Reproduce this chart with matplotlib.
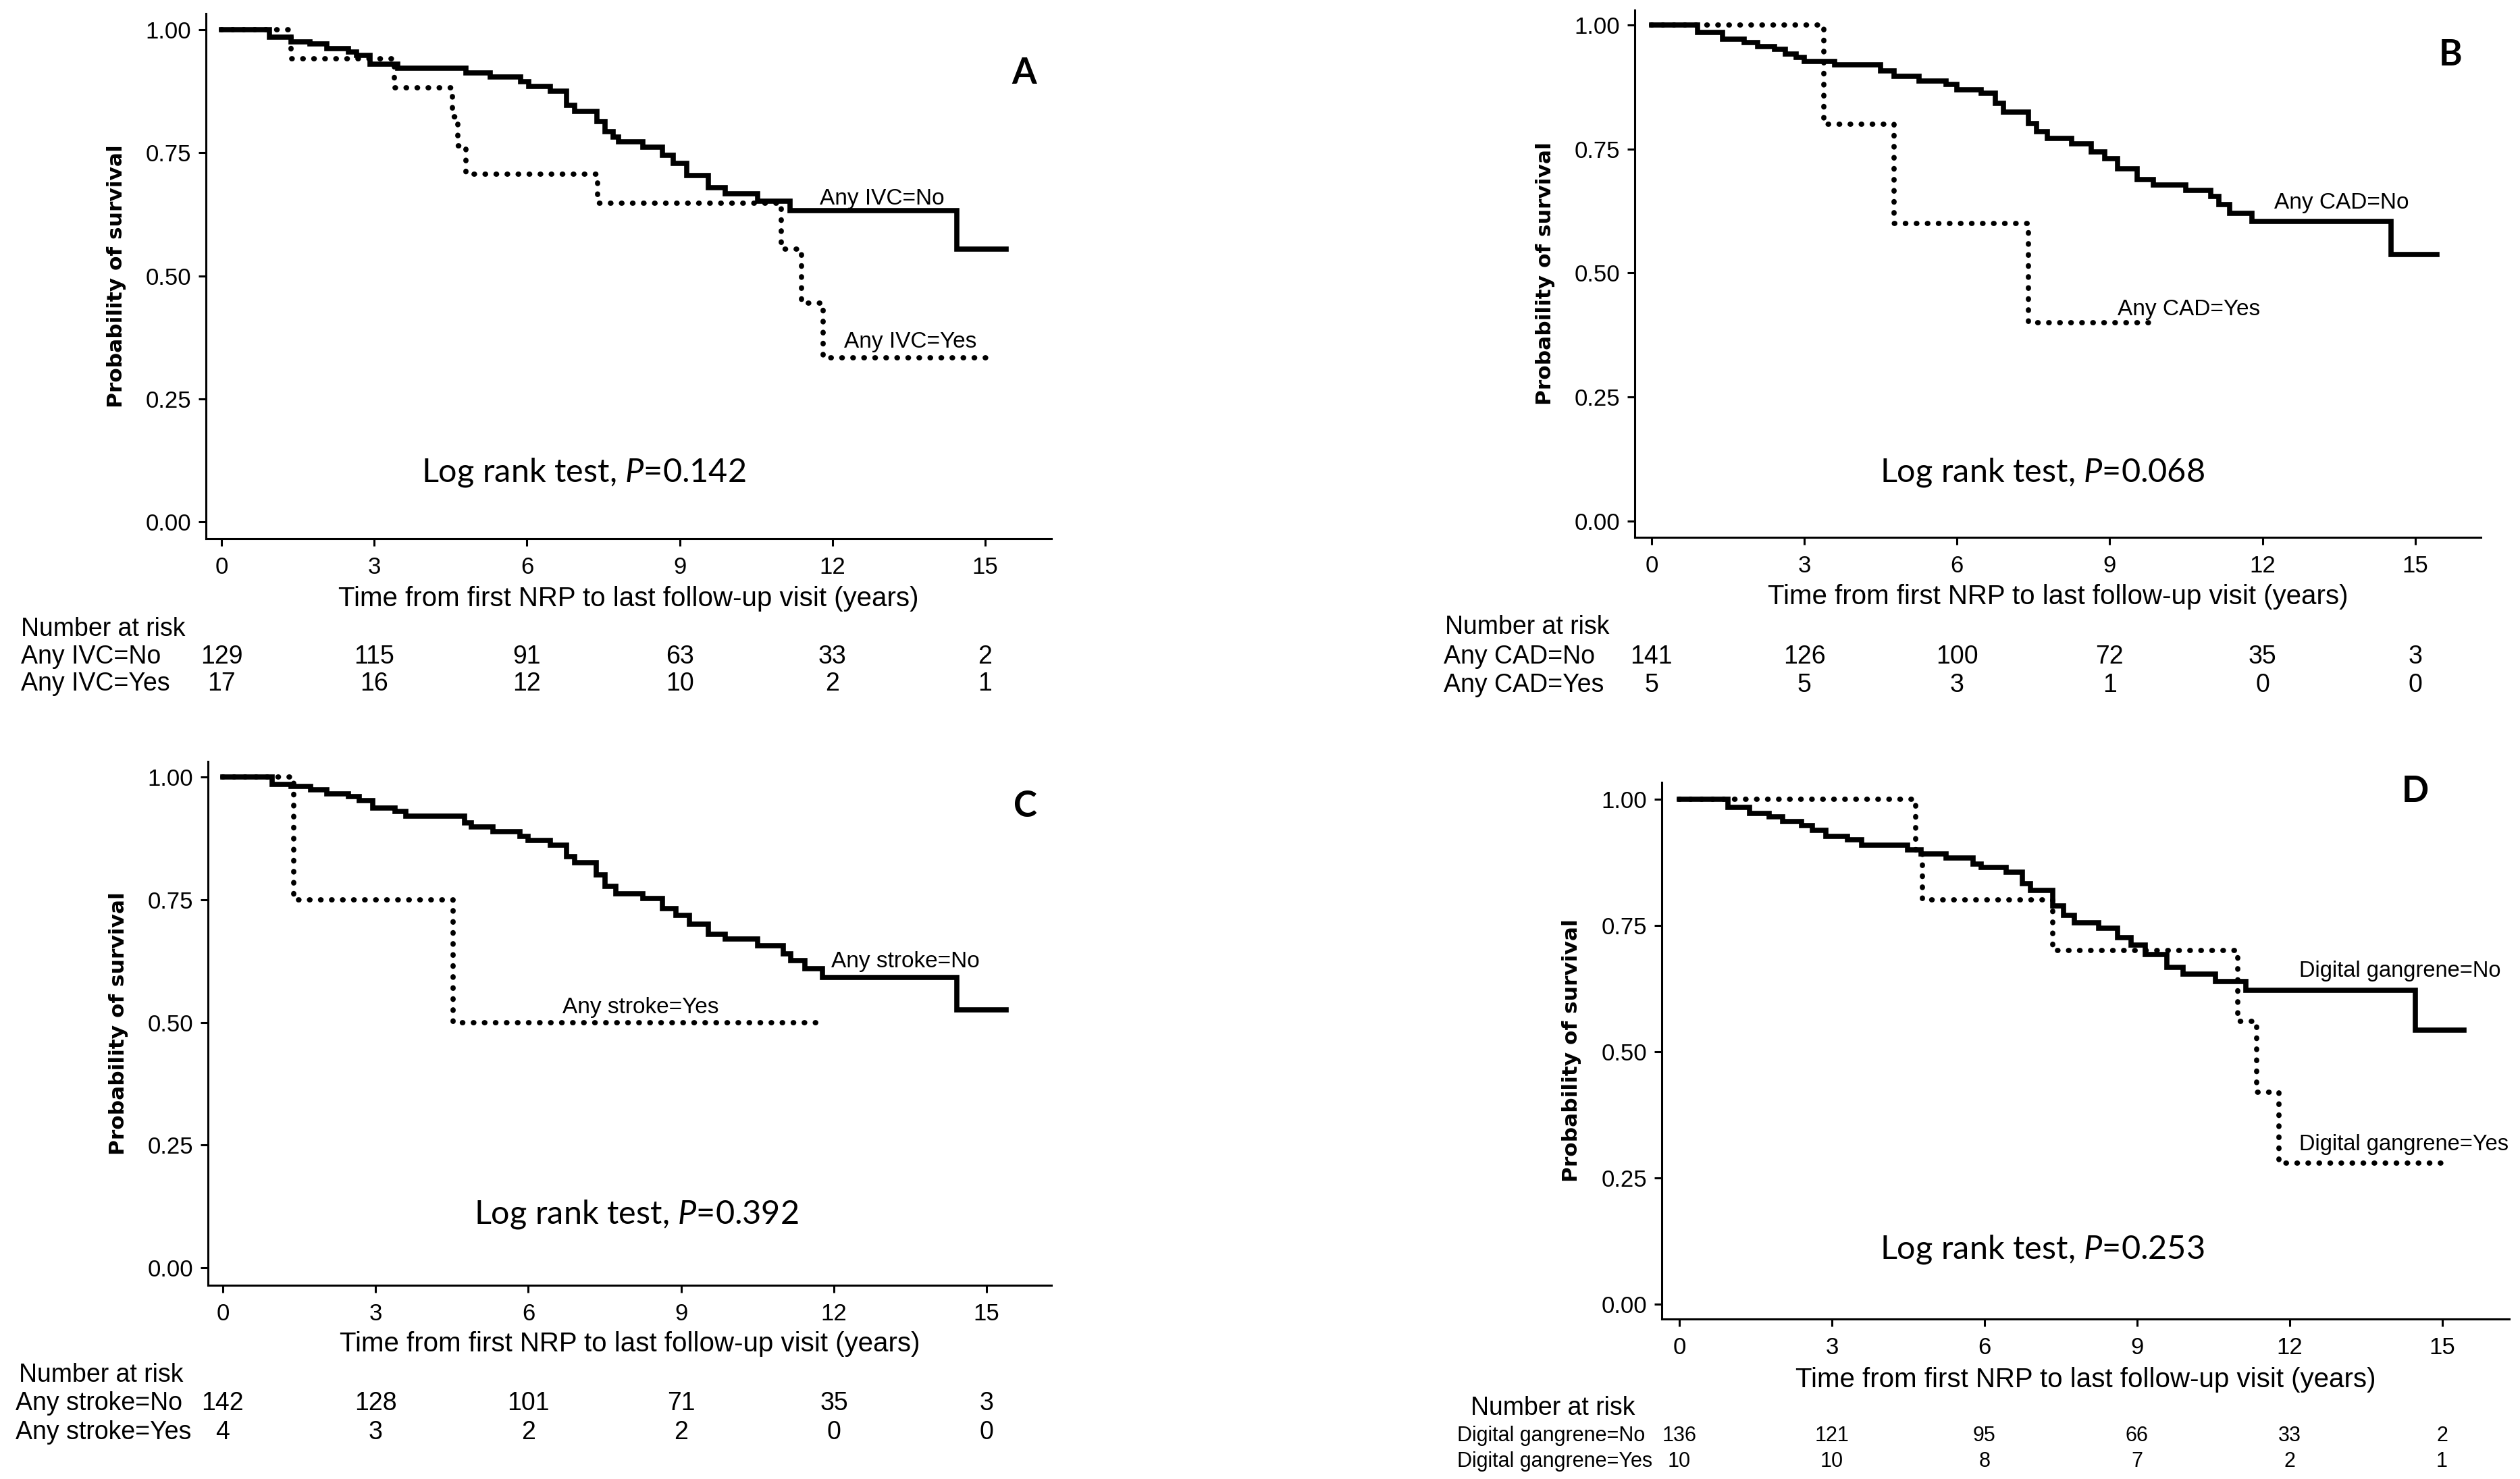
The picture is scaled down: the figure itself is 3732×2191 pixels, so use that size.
import matplotlib
matplotlib.use('Agg')
import matplotlib.pyplot as plt
from matplotlib import font_manager
from matplotlib.transforms import blended_transform_factory

plt.rcParams['font.family'] = ['Liberation Sans', 'DejaVu Sans']
plt.rcParams['mathtext.fontset'] = 'custom'
plt.rcParams['mathtext.rm'] = 'Lato'
plt.rcParams['mathtext.it'] = 'Lato:italic'

# tick labels in the original are a narrow face; use it when it is there
names = {f.name for f in font_manager.fontManager.ttflist}
if 'Liberation Sans Narrow' in names:
    tick_family, tick_size = 'Liberation Sans Narrow', 31
else:
    tick_family, tick_size = 'Liberation Sans', 25

# ── Data ─────────────────────────────────────────────────────
years = [0, 3, 6, 9, 12, 15]

# A: Any IVC
a_no_t = [0, 0.94, 1.37, 1.74, 2.07, 2.49, 2.65, 2.92, 3.46, 4.80, 5.28, 5.87, 6.03, 6.46, 6.78,
          6.94, 7.37, 7.53, 7.69, 7.80, 8.28, 8.66, 8.87, 9.14, 9.56, 9.89, 10.53, 11.17, 14.44, 15.41]
a_no_s = [1.0, 0.985, 0.976, 0.971, 0.962, 0.955, 0.948, 0.930, 0.922, 0.912, 0.904, 0.894, 0.885, 0.875, 0.846,
          0.834, 0.813, 0.793, 0.782, 0.772, 0.761, 0.745, 0.729, 0.704, 0.679, 0.667, 0.652, 0.633, 0.554, 0.554]
a_yes_t = [0, 1.37, 3.40, 4.53, 4.64, 4.80, 7.39, 11.00, 11.39, 11.82, 15.09]
a_yes_s = [1.0, 0.941, 0.882, 0.823, 0.764, 0.706, 0.647, 0.555, 0.444, 0.333, 0.333]
a_risk_no = [129, 115, 91, 63, 33, 2]
a_risk_yes = [17, 16, 12, 10, 2, 1]

# B: Any CAD
b_no_t = [0, 0.91, 1.39, 1.82, 2.09, 2.41, 2.63, 2.84, 3.00, 3.60, 4.50, 4.77, 5.25, 5.79, 6.00, 6.48, 6.75,
          6.91, 7.40, 7.56, 7.77, 8.25, 8.63, 8.90, 9.16, 9.54, 9.86, 10.50, 10.98, 11.15, 11.36, 11.79, 14.52, 15.43]
b_no_s = [1.0, 0.985, 0.971, 0.964, 0.956, 0.951, 0.941, 0.935, 0.926, 0.920, 0.907, 0.896, 0.887, 0.880, 0.870,
          0.862, 0.842, 0.824, 0.801, 0.785, 0.771, 0.761, 0.744, 0.731, 0.710, 0.688, 0.677, 0.667, 0.654, 0.638,
          0.620, 0.604, 0.537, 0.537]
b_yes_t = [0, 3.38, 4.77, 7.40, 9.81]
b_yes_s = [1.0, 0.8, 0.6, 0.4, 0.4]
b_risk_no = [141, 126, 100, 72, 35, 3]
b_risk_yes = [5, 5, 3, 1, 0, 0]

# C: Any stroke
c_no_t = [0, 0.97, 1.34, 1.72, 2.04, 2.47, 2.68, 2.95, 3.38, 3.59, 4.75, 4.88, 5.31, 5.84, 6.00, 6.43, 6.75,
          6.91, 7.34, 7.50, 7.72, 8.25, 8.63, 8.90, 9.16, 9.54, 9.86, 10.50, 11.00, 11.15, 11.43, 11.78, 14.42, 15.38]
c_no_s = [1.0, 0.985, 0.981, 0.974, 0.966, 0.960, 0.952, 0.937, 0.930, 0.921, 0.907, 0.898, 0.889, 0.879, 0.871,
          0.862, 0.838, 0.826, 0.801, 0.778, 0.762, 0.753, 0.732, 0.718, 0.700, 0.679, 0.670, 0.656, 0.640, 0.626,
          0.610, 0.592, 0.526, 0.526]
c_yes_t = [0, 1.39, 4.52, 11.74]
c_yes_s = [1.0, 0.75, 0.5, 0.5]
c_risk_no = [142, 128, 101, 71, 35, 3]
c_risk_yes = [4, 3, 2, 2, 0, 0]

# D: Digital gangrene
d_no_t = [0, 0.95, 1.38, 1.76, 2.03, 2.40, 2.62, 2.88, 3.31, 3.58, 4.49, 4.76, 5.24, 5.78, 5.94, 6.43, 6.74,
          6.90, 7.34, 7.55, 7.77, 8.25, 8.62, 8.89, 9.16, 9.59, 9.91, 10.55, 11.14, 14.47, 15.43]
d_no_s = [1.0, 0.984, 0.972, 0.965, 0.956, 0.948, 0.938, 0.926, 0.919, 0.909, 0.899, 0.891, 0.883, 0.872, 0.865,
          0.855, 0.833, 0.819, 0.789, 0.770, 0.755, 0.745, 0.726, 0.711, 0.692, 0.667, 0.654, 0.639, 0.622, 0.543, 0.543]
d_yes_t = [0, 4.65, 4.78, 7.34, 10.98, 11.36, 11.79, 15.10]
d_yes_s = [1.0, 0.9, 0.8, 0.7, 0.56, 0.42, 0.28, 0.28]
d_risk_no = [136, 121, 95, 66, 33, 2]
d_risk_yes = [10, 10, 8, 7, 2, 1]

# ── Layout (pixels in a 3732x2191 canvas) ────────────────────
W, H = 3732, 2191
fig = plt.figure(figsize=(W / 100, H / 100), dpi=100)

panels = [
    dict(letter='A', box=(305, 20, 1557, 798), xlim=(-0.305, 16.30), ylim=(-0.034, 1.033),
         no=(a_no_t, a_no_s), yes=(a_yes_t, a_yes_s), risk=(a_risk_no, a_risk_yes),
         names=('Any IVC=No', 'Any IVC=Yes'), pval='0.142', xlab_px=887,
         letter_xy=(15.76, 0.912), no_xy=(11.75, 0.657), yes_xy=(12.23, 0.366), p_xy=(7.11, 0.10),
         tbl_x=31, nar_x=31, tbl_y=(932, 973, 1013), tbl_fs=27, lab_fs=24),
    dict(letter='B', box=(2421, 15, 3674, 796), xlim=(-0.33, 16.29), ylim=(-0.033, 1.030),
         no=(b_no_t, b_no_s), yes=(b_yes_t, b_yes_s), risk=(b_risk_no, b_risk_yes),
         names=('Any CAD=No', 'Any CAD=Yes'), pval='0.068', xlab_px=884,
         letter_xy=(15.69, 0.94), no_xy=(12.23, 0.641), yes_xy=(9.15, 0.427), p_xy=(7.67, 0.098),
         tbl_x=2138, nar_x=2140, tbl_y=(929, 973, 1015), tbl_fs=27, lab_fs=24),
    dict(letter='C', box=(308, 1128, 1557, 1904), xlim=(-0.29, 16.27), ylim=(-0.036, 1.032),
         no=(c_no_t, c_no_s), yes=(c_yes_t, c_yes_s), risk=(c_risk_no, c_risk_yes),
         names=('Any stroke=No', 'Any stroke=Yes'), pval='0.392', xlab_px=1991,
         letter_xy=(15.76, 0.941), no_xy=(11.95, 0.624), yes_xy=(6.67, 0.53), p_xy=(8.12, 0.109),
         tbl_x=23, nar_x=28, tbl_y=(2037, 2079, 2122), tbl_fs=27, lab_fs=24),
    dict(letter='D', box=(2461, 1159, 3716, 1954), xlim=(-0.345, 16.32), ylim=(-0.029, 1.033),
         no=(d_no_t, d_no_s), yes=(d_yes_t, d_yes_s), risk=(d_risk_no, d_risk_yes),
         names=('Digital gangrene=No', 'Digital gangrene=Yes'), pval='0.253', xlab_px=2044,
         letter_xy=(14.47, 1.015), no_xy=(12.19, 0.659), yes_xy=(12.19, 0.316), p_xy=(7.13, 0.108),
         tbl_x=2158, nar_x=2178, tbl_y=(2086, 2127, 2165), tbl_fs=22, lab_fs=23.5),
]

for p in panels:
    x0, y0, x1, y1 = p['box']
    ax = fig.add_axes([x0 / W, 1 - y1 / H, (x1 - x0) / W, (y1 - y0) / H])

    ax.plot(p['no'][0], p['no'][1], drawstyle='steps-post', color='black', lw=5.5,
            solid_joinstyle='miter')
    ax.plot(p['yes'][0], p['yes'][1], drawstyle='steps-post', color='black', lw=5.6,
            linestyle=(0, (0.1, 2.0)), dash_capstyle='round')

    ax.set_xlim(*p['xlim'])
    ax.set_ylim(*p['ylim'])
    ax.set_xticks(years)
    ax.set_yticks([0, 0.25, 0.5, 0.75, 1.0])
    ax.set_yticklabels(['0.00', '0.25', '0.50', '0.75', '1.00'])
    for lbl in ax.get_xticklabels() + ax.get_yticklabels():
        lbl.set_family(tick_family)
        lbl.set_fontsize(tick_size)
    ax.spines['top'].set_visible(False)
    ax.spines['right'].set_visible(False)
    for s in ('left', 'bottom'):
        ax.spines[s].set_linewidth(2.2)
    ax.tick_params(direction='out', length=8, width=2.2)
    ax.tick_params(axis='x', pad=11)
    ax.tick_params(axis='y', pad=8)

    ax.set_xlabel('Time from first NRP to last follow-up visit (years)', fontsize=29, va='center')
    ax.xaxis.set_label_coords(0.5, (y1 - p['xlab_px']) / (y1 - y0))
    ax.set_ylabel('Probability of survival', fontsize=22.5, fontweight='bold',
                  family=['DejaVu Sans'], va='center')
    ax.yaxis.set_label_coords(-0.106, 0.5)

    ax.text(*p['letter_xy'], p['letter'], fontsize=38, fontweight='bold', family='Lato',
            ha='center', va='center')
    ax.text(*p['no_xy'], p['names'][0], fontsize=p['lab_fs'], ha='left', va='center')
    ax.text(*p['yes_xy'], p['names'][1], fontsize=p['lab_fs'], ha='left', va='center')
    ax.text(*p['p_xy'], 'Log rank test, $\\mathit{P}$=' + p['pval'], fontsize=35, family='Lato',
            ha='center', va='center')

    # Number at risk table
    ny, r1, r2 = p['tbl_y']
    fig.text(p['nar_x'] / W, 1 - ny / H, 'Number at risk', fontsize=27, ha='left', va='center')
    fig.text(p['tbl_x'] / W, 1 - r1 / H, p['names'][0], fontsize=p['tbl_fs'], ha='left', va='center')
    fig.text(p['tbl_x'] / W, 1 - r2 / H, p['names'][1], fontsize=p['tbl_fs'], ha='left', va='center')
    tr = blended_transform_factory(ax.transData, fig.transFigure)
    for yr, n_no, n_yes in zip(years, p['risk'][0], p['risk'][1]):
        ax.text(yr, 1 - r1 / H, str(n_no), transform=tr, fontsize=p['tbl_fs'], ha='center', va='center')
        ax.text(yr, 1 - r2 / H, str(n_yes), transform=tr, fontsize=p['tbl_fs'], ha='center', va='center')

fig.savefig('out.png', dpi=100, facecolor='white')
